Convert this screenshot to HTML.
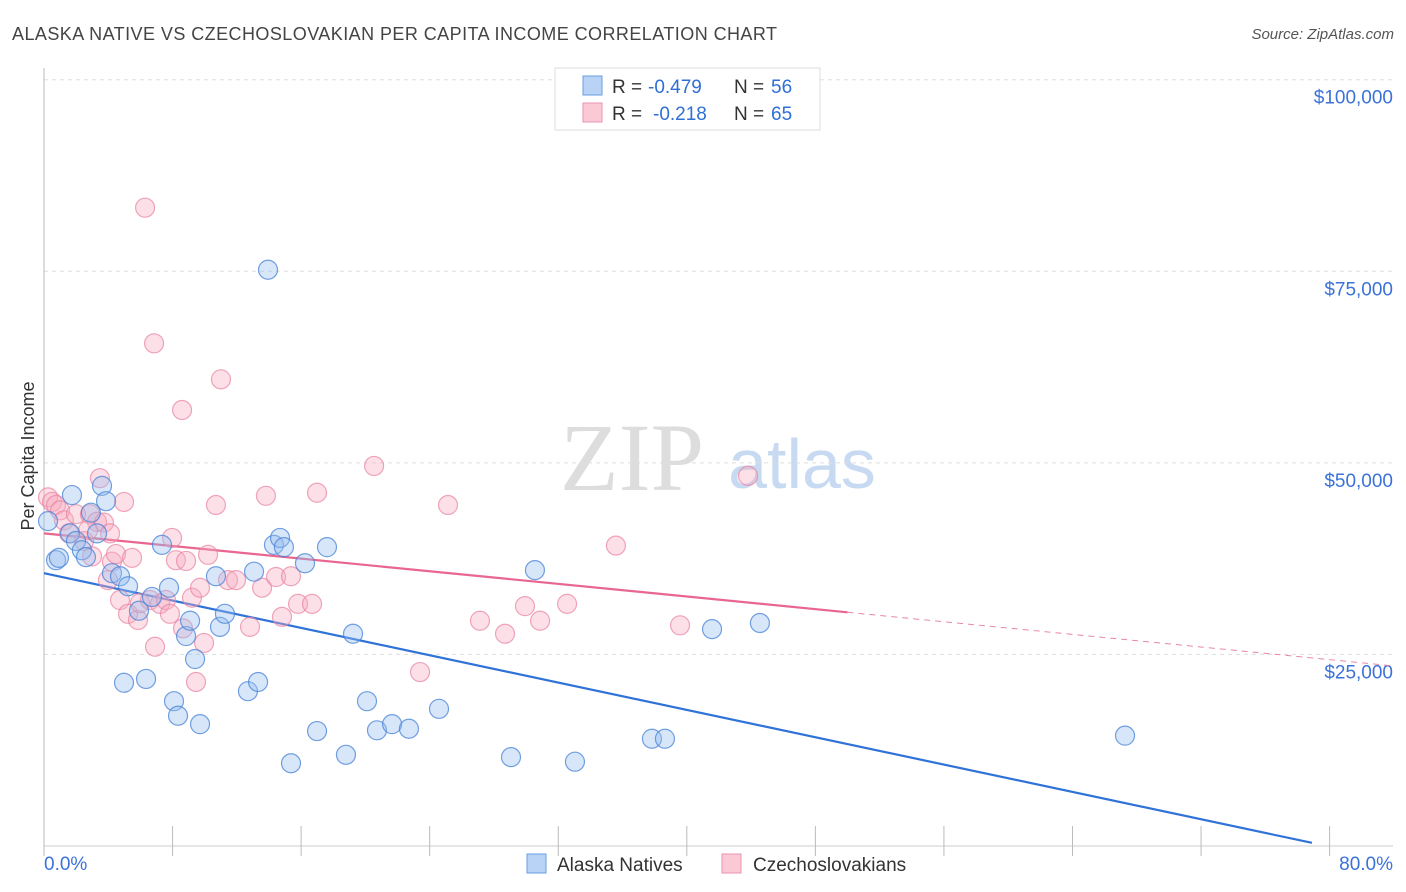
<!DOCTYPE html>
<html><head><meta charset="utf-8"><style>
body{margin:0;background:#fff;font-family:"Liberation Sans",sans-serif}
svg{display:block}
</style></head><body>
<svg id="c" width="1406" height="892">
<text x="12" y="40" font-size="18" fill="#444" textLength="765" lengthAdjust="spacing">ALASKA NATIVE VS CZECHOSLOVAKIAN PER CAPITA INCOME CORRELATION CHART</text>
<text x="1394" y="39" font-size="15" fill="#555" font-style="italic" text-anchor="end">Source: ZipAtlas.com</text>
<text transform="translate(34,456) rotate(-90)" font-size="18" fill="#333" text-anchor="middle">Per Capita Income</text>
<g>
<text x="632" y="490" font-size="96" font-family="Liberation Serif,serif" fill="#ddd" text-anchor="middle">ZIP</text>
<text x="802" y="488" font-size="70" fill="#c8daf2" text-anchor="middle">atlas</text>
</g>
<g id="grid"></g><g id="axes"></g><g id="trend"></g><g id="pts"></g>
<g>
<rect x="555" y="68" width="265" height="62" fill="#fff" stroke="#ddd"/>
<rect x="583" y="76" width="19" height="19" fill="#b8d3f5" stroke="#6a9de0"/>
<rect x="583" y="103" width="19" height="19" fill="#fbc8d6" stroke="#e894ae"/>
<text x="612" y="93" font-size="19" fill="#333">R =</text>
<text x="648" y="93" font-size="19" fill="#2f6fd6">-0.479</text>
<text x="734" y="93" font-size="19" fill="#333">N =</text>
<text x="771" y="93" font-size="19" fill="#2f6fd6">56</text>
<text x="612" y="120" font-size="19" fill="#333">R =</text>
<text x="653" y="120" font-size="19" fill="#2f6fd6">-0.218</text>
<text x="734" y="120" font-size="19" fill="#333">N =</text>
<text x="771" y="120" font-size="19" fill="#2f6fd6">65</text>
</g>
<g>
<rect x="527" y="854" width="19" height="19" fill="#b8d3f5" stroke="#6a9de0"/>
<text x="557" y="871" font-size="19" fill="#333">Alaska Natives</text>
<rect x="722" y="854" width="19" height="19" fill="#fbc8d6" stroke="#e894ae"/>
<text x="753" y="871" font-size="19" fill="#333">Czechoslovakians</text>
</g>
</svg>
<script>
const blueX=[0.25,0.75,0.93,1.62,1.74,1.99,2.36,2.61,2.92,3.30,3.61,3.86,4.23,4.73,4.98,5.23,5.91,6.35,6.72,7.34,7.78,8.09,8.34,8.84,9.09,9.40,9.71,10.70,10.95,11.26,12.69,13.07,13.32,13.94,14.31,14.69,14.93,15.37,16.24,16.99,17.61,18.79,19.23,20.10,20.72,21.66,22.71,24.58,29.06,30.55,33.04,37.83,38.64,41.57,44.55,67.27];
const blueY=[42.4,37.3,37.6,40.8,45.8,39.8,38.6,37.7,43.5,40.8,47.0,45.0,35.6,35.2,21.3,33.9,30.7,21.8,32.5,39.3,33.7,18.9,17.0,27.4,29.4,24.4,15.9,35.2,28.6,30.3,20.2,35.8,21.4,75.2,39.3,40.2,39.0,10.8,36.9,15.0,39.0,11.9,27.7,18.9,15.1,15.9,15.3,17.9,11.6,36.0,11.0,14.0,14.0,28.3,29.1,14.4];
const pinkX=[0.25,0.50,0.75,1.00,1.24,1.56,1.99,2.49,2.86,2.99,3.30,3.48,3.73,4.11,4.23,4.48,4.73,4.98,5.23,5.48,5.85,5.97,6.29,6.60,6.85,6.91,7.22,7.59,7.84,7.97,8.21,8.59,8.65,8.84,9.21,9.46,9.71,9.96,10.21,10.70,11.01,11.45,11.95,12.82,13.57,13.81,14.44,14.81,15.37,15.81,16.68,16.99,20.54,23.40,25.14,27.13,28.69,29.93,30.87,32.55,35.59,39.58,43.81,2.74,3.98];
const pinkY=[45.5,44.9,44.5,43.8,42.5,40.8,43.3,39.8,43.3,37.8,42.3,48.0,42.2,40.8,37.1,38.1,32.1,44.9,30.3,37.6,29.5,31.7,83.3,32.1,65.6,26.0,31.6,32.1,30.3,40.2,37.3,56.9,28.4,37.2,32.4,21.4,33.7,26.5,38.0,44.5,60.9,34.7,34.7,28.6,33.7,45.7,35.1,29.9,35.2,31.6,31.6,46.1,49.6,22.7,44.5,29.4,27.7,31.3,29.4,31.6,39.2,28.8,48.3,41.2,34.7];
const yTicks=[25,50,75,100];
const yTickLabels=["$25,000","$50,000","$75,000","$100,000"];
const blueTrend=[35.6,-0.446,0,78.9];
const pinkTrend=[40.8,-0.206,0,50,83.9];
const X=p=>44+p*16.07, Y=k=>846-k/0.1305;
const NS="http://www.w3.org/2000/svg";
function mk(t,a,parent){const e=document.createElementNS(NS,t);for(const k in a)e.setAttribute(k,a[k]);document.getElementById(parent).appendChild(e);return e;}
yTicks.forEach((v,i)=>{
 const l=mk('line',{x1:44,x2:1393,y1:Y(v),y2:Y(v),stroke:'#ddd','stroke-dasharray':'4,4'},'grid');
 
 
 const t=mk('text',{x:1393,y:Y(v)+24,'font-size':19,fill:'#3b72d8','text-anchor':'end'},'grid');
 t.textContent=yTickLabels[i];
 
 
});
const ax=mk('line',{x1:44,x2:44,y1:68,y2:846,stroke:'#bbb'},'axes');


const bx=mk('line',{x1:44,x2:1393,y1:846,y2:846,stroke:'#ccc'},'axes');


for(let i=0;i<=10;i++){const t=mk('line',{x1:X(i*8),x2:X(i*8),y1:826,y2:846+10,stroke:'#bbb'},'axes');
 
 }
const xl=mk('text',{x:44,y:870,'font-size':19,fill:'#3b72d8'},'axes');xl.textContent='0.0%';


const xr=mk('text',{x:1393,y:870,'font-size':19,fill:'#3b72d8','text-anchor':'end'},'axes');xr.textContent='80.0%';


function pts(xs,ys,fill,stroke,name){xs.forEach((x,i)=>{const c=mk('circle',{cx:X(x),cy:Y(ys[i]),r:9.5,fill:fill,stroke:stroke,'stroke-width':1.2},'pts');
 
 });}
pts(pinkX,pinkY,'rgba(246,170,192,0.38)','rgba(232,130,160,0.7)','czechoslovakian-point');
pts(blueX,blueY,'rgba(150,190,240,0.38)','rgba(70,130,215,0.75)','alaska-native-point');
const bt=mk('line',{x1:X(blueTrend[2]),y1:Y(blueTrend[0]+blueTrend[1]*blueTrend[2]),x2:X(blueTrend[3]),y2:Y(blueTrend[0]+blueTrend[1]*blueTrend[3]),stroke:'#2f72d8','stroke-width':2.2},'trend');


const pt=mk('line',{x1:X(pinkTrend[2]),y1:Y(pinkTrend[0]),x2:X(pinkTrend[3]),y2:Y(pinkTrend[0]+pinkTrend[1]*pinkTrend[3]),stroke:'#e8668f','stroke-width':2.2},'trend');


const pd=mk('line',{x1:X(pinkTrend[3]),y1:Y(pinkTrend[0]+pinkTrend[1]*pinkTrend[3]),x2:X(pinkTrend[4]),y2:Y(pinkTrend[0]+pinkTrend[1]*pinkTrend[4]),stroke:'#e8889f','stroke-width':1,'stroke-dasharray':'6,5'},'trend');


</script>
</body></html>
